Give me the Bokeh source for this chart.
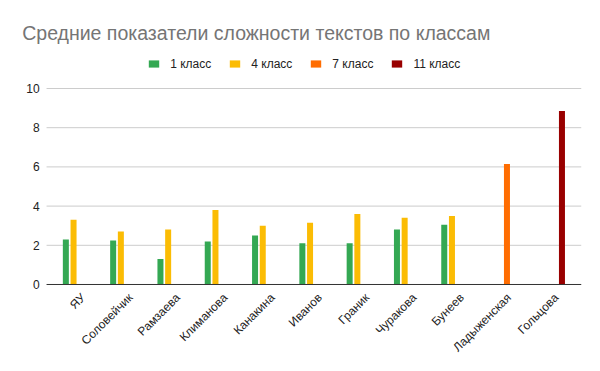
import math
from bokeh.plotting import figure
from bokeh.models import (ColumnDataSource, Range1d, Label, Legend, LegendItem)
from bokeh.embed import file_html
from bokeh.resources import INLINE
from bokeh.core.properties import value

title_text = "Средние показатели сложности текстов по классам"
categories = ["ЯУ", "Соловейчик", "Рамзаева", "Климанова", "Канакина", "Иванов",
              "Граник", "Чуракова", "Бунеев", "Ладыженская", "Гольцова"]
series_names = ["1 класс", "4 класс", "7 класс", "11 класс"]
grade1 = [2.3, 2.25, 1.3, 2.2, 2.5, 2.1, 2.1, 2.8, 3.05, None, None]
grade4 = [3.3, 2.7, 2.8, 3.8, 3.0, 3.15, 3.6, 3.4, 3.5, None, None]
grade7 = [None, None, None, None, None, None, None, None, None, 6.15, None]
grade11 = [None, None, None, None, None, None, None, None, None, None, 8.85]
y_ticks = [0, 2, 4, 6, 8, 10]
colors = ["#34a853", "#fbbc04", "#ff6d01", "#990000"]

FONT = "Liberation Sans"

# plot-area extent in category units (the chart area of the original)
X0, X1 = -0.652, 10.652

p = figure(width=600, height=371, output_backend="svg", toolbar_location=None,
           x_range=Range1d(-1.6258, 11.059), y_range=Range1d(-4.439, 14.490),
           min_border=0, min_border_left=0, min_border_right=0,
           min_border_top=0, min_border_bottom=0,
           x_axis_type=None, y_axis_type=None,
           background_fill_color="white", border_fill_color="white",
           outline_line_color=None)
p.xgrid.visible = False
p.ygrid.visible = False

# gridlines
grid_y = [t for t in y_ticks if t != 0]
p.segment(x0=[X0] * len(grid_y), x1=[X1] * len(grid_y), y0=grid_y, y1=grid_y,
          line_color="#cccccc", line_width=1)

# y tick labels
p.text(x=[X0] * len(y_ticks), y=y_ticks, text=[str(t) for t in y_ticks],
       x_offset=-7, text_align="right", text_baseline="middle",
       text_font=value(FONT), text_font_size="12px", text_color="#222222")

slot = 0.1628
bar_w = 0.127
items = []
for k, (name, vals, col) in enumerate(zip(series_names, [grade1, grade4, grade7, grade11], colors)):
    xs = [i + (k - 1.5) * slot for i, v in enumerate(vals) if v is not None]
    ys = [v for v in vals if v is not None]
    src = ColumnDataSource(dict(x=xs, top=ys))
    r = p.vbar(x="x", top="top", bottom=0, width=bar_w, source=src,
               fill_color=col, line_color=None)
    items.append(LegendItem(label=name, renderers=[r]))

# baseline
p.segment(x0=[X0], x1=[X1], y0=[0], y1=[0], line_color="#333333", line_width=1)

# x category labels, rotated 45 degrees
p.text(x=list(range(len(categories))), y=[0] * len(categories), text=categories,
       x_offset=6, y_offset=11, angle=math.pi / 4, text_align="right",
       text_baseline="middle", text_font=value(FONT), text_font_size="12px",
       text_color="#222222")

legend = Legend(items=items, location=(147.2, 300.5), orientation="horizontal",
                glyph_width=13, glyph_height=9, label_height=9, label_standoff=10,
                spacing=17, padding=0, margin=0, border_line_color=None,
                background_fill_alpha=0, label_text_font=FONT,
                label_text_font_size="12px", label_text_color="#222222")
p.add_layout(legend, "center")

p.add_layout(Label(x=21.7, y=338.7, x_units="screen", y_units="screen",
                   text=title_text, text_font=FONT, text_font_size="19.5px",
                   text_color="#757575", text_baseline="alphabetic", text_align="left"))

open("out.html", "w").write(file_html(p, INLINE))
